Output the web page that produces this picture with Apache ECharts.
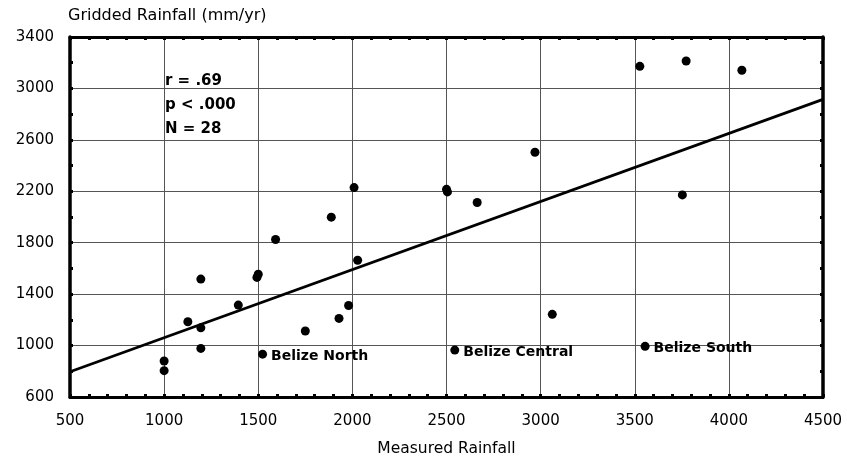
<!DOCTYPE html>
<html><head><meta charset="utf-8">
<script src="https://cdn.jsdelivr.net/npm/echarts@6/dist/echarts.min.js"></script>
<style>html,body{margin:0;padding:0;background:#fff}#c{width:847px;height:458px}</style>
</head><body><div id="c"></div>
<script>
const measured = [1000,1000,1126,1195,1195,1195,1394,1493,1500,1592,1523,1750,1888,1929,1980,2009,2028,2500,2505,2663,2970,3062,2544,3555,3527,3773,4069,3753];
const gridded  = [880,805,1185,1517,1138,978,1315,1530,1555,1825,933,1113,1999,1211,1312,2229,1664,2215,2195,2113,2504,1243,965,994,3172,3213,3141,2172];
const pointNames = ['','','','','','','','','','','Belize North','','','','','','','','','','','','Belize Central','Belize South','','','',''];
const fitX = [500,4500];
const fitY = [797,2915];
const statsText = ['r = .69','p < .000','N = 28'];
const xTitle = 'Measured Rainfall';
const yTitle = 'Gridded Rainfall (mm/yr)';

const FONT = 'DejaVu Sans';
const chart = echarts.init(document.getElementById('c'));
const pts = measured.map((x,i)=>({value:[x,gridded[i]], name:pointNames[i],
  label:{show: pointNames[i] !== ''}}));
const tickStyle = {show:true,inside:true,length:3,lineStyle:{color:'#000',width:3}};
const mkX = (pos, main) => ({type:'value',min:500,max:4500,interval:500,position:pos,
    name: main ? xTitle : '',nameLocation:'middle',nameGap:44,
    nameTextStyle:{fontFamily:FONT,fontSize:15.5,color:'#000'},
    axisLine:{onZero:false,lineStyle:{color:'#000',width:3}},
    axisTick:tickStyle,
    minorTick:{show:true,splitNumber:5,length:3,lineStyle:{color:'#000',width:3}},
    axisLabel:{show:main,fontFamily:FONT,fontSize:15,color:'#000',margin:17,formatter:v=>String(v)},
    splitLine:{show:main,lineStyle:{color:'#555',width:1}}});
const mkY = (pos, main) => ({type:'value',min:600,max:3400,interval:400,position:pos,
    name: main ? yTitle : '',nameLocation:'end',nameGap:13,
    nameTextStyle:{fontFamily:FONT,fontSize:16,color:'#000',align:'left',padding:[0,0,0,-2]},
    axisLine:{onZero:false,lineStyle:{color:'#000',width:3.5}},
    axisTick:tickStyle,
    minorTick:{show:true,splitNumber:2,length:3,lineStyle:{color:'#000',width:3}},
    axisLabel:{show:main,fontFamily:FONT,fontSize:15,color:'#000',margin:16,formatter:v=>String(v)},
    splitLine:{show:main,lineStyle:{color:'#555',width:1}}});
chart.setOption({
  animation:false,
  grid:{left:70,right:24,top:37,bottom:61,outerBoundsMode:'none',containLabel:false},
  xAxis:[mkX('bottom',true), mkX('top',false)],
  yAxis:[mkY('left',true), mkY('right',false)],
  graphic:[
    {type:'text',left:165,top:69,style:{text:statsText.join('\n'),font:'bold 15px "'+FONT+'"',lineHeight:24,fill:'#000'},z:20}
  ],
  series:[
    {type:'line',data:fitX.map((x,i)=>[x,fitY[i]]),showSymbol:false,symbol:'none',
      lineStyle:{color:'#000',width:2.7},z:3},
    {type:'scatter',data:pts,symbolSize:9,itemStyle:{color:'#000',opacity:1},z:4,
      label:{position:'right',distance:4,offset:[0,2],formatter:p=>p.name,fontFamily:FONT,fontSize:14,fontWeight:'bold',color:'#000'}}
  ]
});
</script></body></html>
